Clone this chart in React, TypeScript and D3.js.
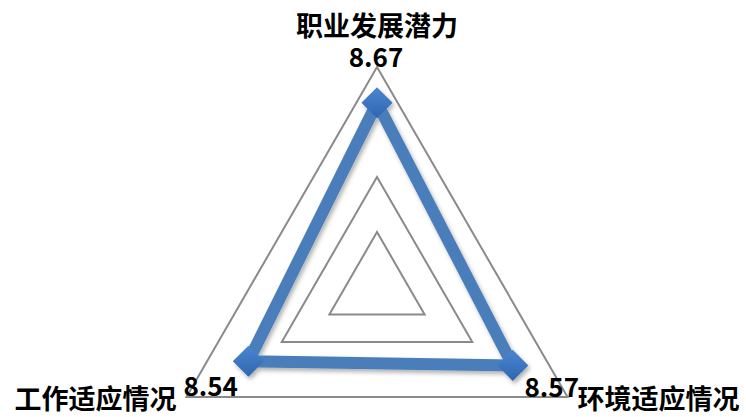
import React from "react";
import * as d3 from "d3";

const categories = ["职业发展潜力", "环境适应情况", "工作适应情况"];
const values = [8.67, 8.57, 8.54];
const valueLabels = ["8.67", "8.57", "8.54"];
const domainMin = 8.0;
const domainMax = 8.8;
const ringValues = [8.2, 8.4, 8.8];

const W = 746;
const H = 417;
const cx = 377;
const cy = 287;
const R = 220;

export default function App() {
  const r = d3.scaleLinear().domain([domainMin, domainMax]).range([0, R]);
  const angle = (i: number) => -Math.PI / 2 + (i * 2 * Math.PI) / categories.length;
  const pt = (i: number, v: number): [number, number] => [
    cx + r(v) * Math.cos(angle(i)),
    cy + r(v) * Math.sin(angle(i)),
  ];
  const line = d3.line<[number, number]>().curve(d3.curveLinearClosed);
  const dataPts = values.map((v, i) => pt(i, v));
  const font = "'Noto Sans CJK SC', 'Noto Sans', sans-serif";
  const outer = categories.map((_, i) => pt(i, domainMax));

  return (
    <svg width={W} height={H} style={{ position: "absolute", left: 0, top: 0, background: "#fff" }} fontFamily={font}>
      <defs>
        <filter id="sh" x="-20%" y="-20%" width="140%" height="140%">
          <feDropShadow dx="2" dy="3" stdDeviation="2" floodColor="#000" floodOpacity="0.3" />
        </filter>
        <linearGradient id="mk" x1="0" y1="0" x2="1" y2="1">
          <stop offset="0" stopColor="#4a86d0" />
          <stop offset="1" stopColor="#2f66b0" />
        </linearGradient>
      </defs>
      {ringValues.map((rv) => (
        <path
          key={rv}
          d={line(categories.map((_, i) => pt(i, rv))) || ""}
          fill="none"
          stroke="#8a8a8a"
          strokeWidth={2}
          strokeLinejoin="miter"
        />
      ))}
      <g filter="url(#sh)">
        <path d={line(dataPts) || ""} fill="none" stroke="#4a7ebb" strokeWidth={12} strokeLinejoin="miter" />
        {dataPts.map(([x, y], i) => (
          <rect
            key={i}
            x={x - 11}
            y={y - 11}
            width={22}
            height={22}
            fill="url(#mk)"
            transform={`rotate(45 ${x} ${y})`}
          />
        ))}
      </g>
      <text x={outer[0][0]} y={36} textAnchor="middle" fontSize={27} fontWeight="bold" fill="#000">
        {categories[0]}
      </text>
      <text x={outer[0][0] - 1} y={67} textAnchor="middle" fontSize={26} fontWeight="bold" fill="#000">
        {valueLabels[0]}
      </text>
      <text x={outer[1][0] - 43} y={397} textAnchor="start" fontSize={26} fontWeight="bold" fill="#000">
        {valueLabels[1]}
      </text>
      <text x={outer[1][0] + 10} y={409} textAnchor="start" fontSize={27} fontWeight="bold" fill="#000">
        {categories[1]}
      </text>
      <text x={outer[2][0] - 3} y={396} textAnchor="start" fontSize={26} fontWeight="bold" fill="#000">
        {valueLabels[2]}
      </text>
      <text x={outer[2][0] - 10} y={409} textAnchor="end" fontSize={27} fontWeight="bold" fill="#000">
        {categories[2]}
      </text>
    </svg>
  );
}
